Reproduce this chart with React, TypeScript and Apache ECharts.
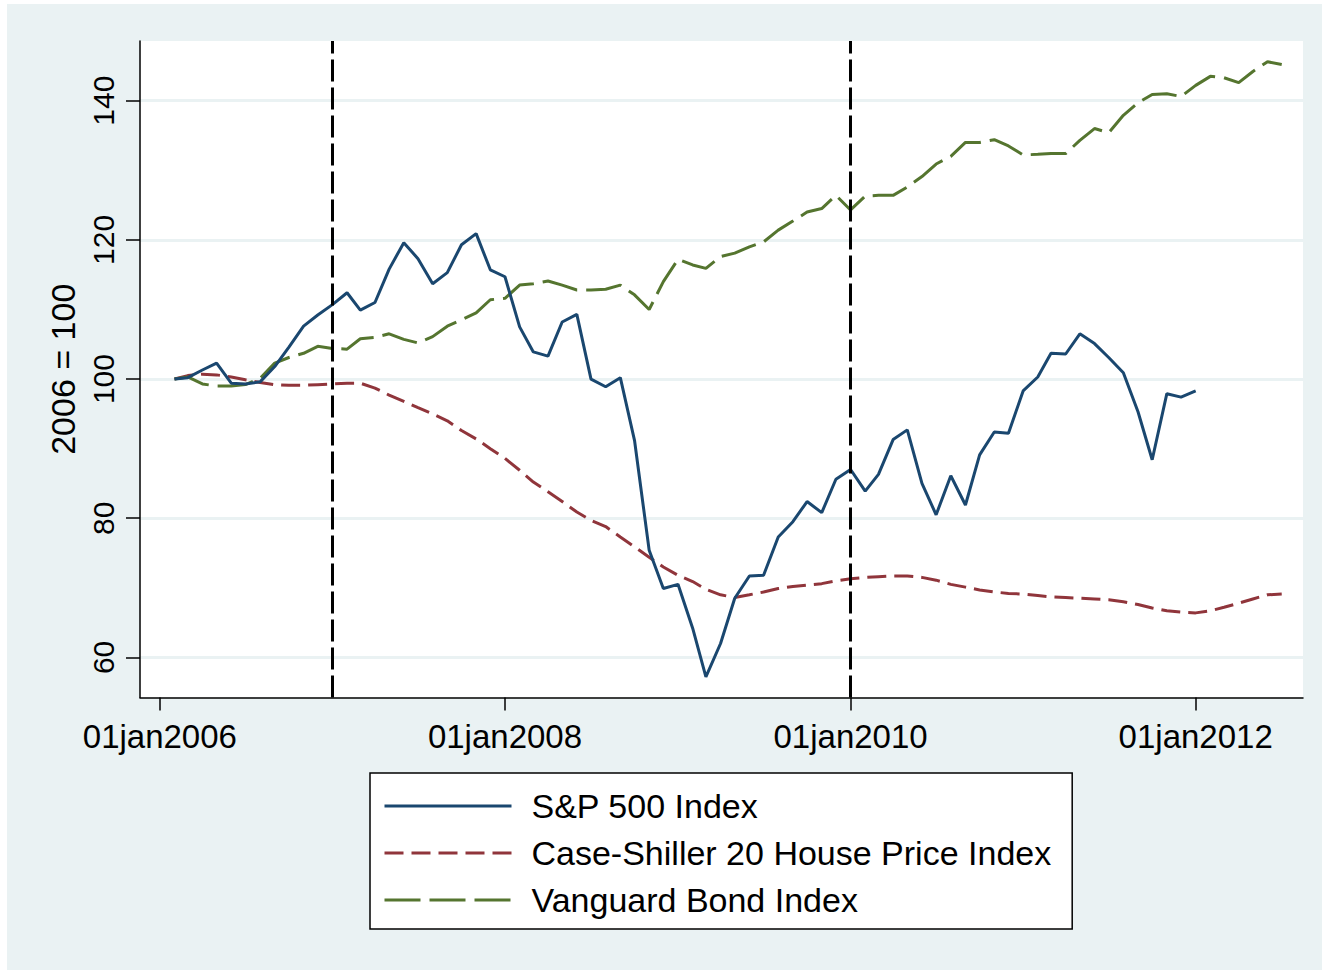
import React, { useEffect, useRef } from "react";
import * as echarts from "echarts";

const months = [
  "2006-02", "2006-03", "2006-04", "2006-05", "2006-06", "2006-07", "2006-08", "2006-09", "2006-10", "2006-11", "2006-12",
  "2007-01", "2007-02", "2007-03", "2007-04", "2007-05", "2007-06", "2007-07", "2007-08", "2007-09", "2007-10", "2007-11", "2007-12",
  "2008-01", "2008-02", "2008-03", "2008-04", "2008-05", "2008-06", "2008-07", "2008-08", "2008-09", "2008-10", "2008-11", "2008-12",
  "2009-01", "2009-02", "2009-03", "2009-04", "2009-05", "2009-06", "2009-07", "2009-08", "2009-09", "2009-10", "2009-11", "2009-12",
  "2010-01", "2010-02", "2010-03", "2010-04", "2010-05", "2010-06", "2010-07", "2010-08", "2010-09", "2010-10", "2010-11", "2010-12",
  "2011-01", "2011-02", "2011-03", "2011-04", "2011-05", "2011-06", "2011-07", "2011-08", "2011-09", "2011-10", "2011-11", "2011-12",
  "2012-01", "2012-02", "2012-03", "2012-04", "2012-05", "2012-06", "2012-07",
];

const sp500 = [
  100.0, 100.2, 101.3, 102.3, 99.4, 99.3, 99.6, 101.8, 104.6, 107.6, 109.2,
  110.7, 112.4, 109.9, 111.0, 115.8, 119.6, 117.3, 113.7, 115.3, 119.3, 120.9, 115.7,
  114.7, 107.5, 103.9, 103.3, 108.2, 109.3, 100.0, 98.9, 100.2, 91.2, 75.4, 69.9,
  70.5, 64.2, 57.2, 62.0, 68.5, 71.7, 71.8, 77.3, 79.5, 82.4, 80.8, 85.6,
  87.0, 83.9, 86.3, 91.3, 92.7, 85.0, 80.5, 86.1, 81.9, 89.1, 92.4, 92.2,
  98.3, 100.3, 103.7, 103.6, 106.5, 105.1, 103.1, 100.9, 95.3, 88.4, 97.9, 97.4,
  98.3,
];

const caseShiller = [
  100.0, 100.5, 100.7, 100.6, 100.3, 99.9, 99.5, 99.2, 99.1, 99.1, 99.2,
  99.3, 99.4, 99.4, 98.7, 97.7, 96.8, 95.9, 95.0, 94.0, 92.6, 91.4, 90.0,
  88.6, 86.9, 85.2, 83.8, 82.4, 80.9, 79.7, 78.8, 77.3, 75.9, 74.4, 73.0,
  71.8, 70.9, 69.8, 69.0, 68.6, 69.0, 69.4, 69.9, 70.2, 70.4, 70.6, 71.0,
  71.3, 71.5, 71.6, 71.7, 71.7, 71.5, 71.1, 70.5, 70.1, 69.7, 69.4, 69.2,
  69.1, 68.9, 68.7, 68.6, 68.5, 68.4, 68.3, 68.0, 67.6, 67.1, 66.7, 66.5,
  66.4, 66.7, 67.2, 67.8, 68.4, 69.0, 69.1,
];

const vanguard = [
  100.0, 100.3, 99.3, 99.0, 99.0, 99.2, 100.1, 102.3, 103.1, 103.7, 104.7,
  104.4, 104.3, 105.8, 106.0, 106.5, 105.7, 105.2, 106.1, 107.6, 108.5, 109.5, 111.4,
  111.6, 113.5, 113.7, 114.1, 113.5, 112.8, 112.8, 112.9, 113.5, 112.1, 110.0, 114.0,
  117.2, 116.4, 115.9, 117.6, 118.1, 119.0, 119.7, 121.4, 122.7, 124.0, 124.5, 126.4,
  124.3, 126.3, 126.4, 126.4, 127.6, 129.1, 130.9, 132.0, 134.0, 134.0, 134.4, 133.5,
  132.2, 132.3, 132.4, 132.4, 134.3, 136.0, 135.4, 137.9, 139.7, 140.9, 141.0, 140.6,
  142.2, 143.5, 143.3, 142.6, 144.2, 145.6, 145.2,
];

const yTicks = [60, 80, 100, 120, 140];
const xTickDates = ["2006-01-01", "2008-01-01", "2010-01-01", "2012-01-01"];
const eventDates = ["2007-01-01", "2010-01-01"];
const seriesNames = ["S&P 500 Index", "Case-Shiller 20 House Price Index", "Vanguard Bond Index"];
const yTitle = "2006 = 100";
const monthNames = ["jan", "feb", "mar", "apr", "may", "jun", "jul", "aug", "sep", "oct", "nov", "dec"];

const FONT = "'Liberation Sans', Arial, Helvetica, sans-serif";

function ts(s: string): number {
  const p = s.split("-").map(Number);
  return Date.UTC(p[0], p[1] - 1, p[2] || 1);
}

function fmtDate(v: number): string {
  const d = new Date(v);
  return String(d.getUTCDate()).padStart(2, "0") + monthNames[d.getUTCMonth()] + d.getUTCFullYear();
}

function toPairs(vals: number[]): [number, number][] {
  return vals.map((v, i) => [ts(months[i]), v]);
}

export default function App() {
  const ref = useRef<HTMLDivElement>(null);
  useEffect(() => {
    if (!ref.current) return;
    const chart = echarts.init(ref.current, null, { renderer: "svg" });
    const xTickVals = xTickDates.map(ts);
    chart.setOption({
      animation: false,
      backgroundColor: "#EAF2F3",
      textStyle: { fontFamily: FONT },
      grid: {
        left: 133,
        top: 37,
        width: 1163,
        height: 656.5,
        show: true,
        backgroundColor: "#ffffff",
        borderWidth: 0,
      },
      xAxis: {
        type: "value",
        min: ts("2005-11-20"),
        max: ts("2012-08-15"),
        axisLine: { show: true, onZero: false, lineStyle: { color: "#000", width: 1.5 } },
        axisTick: { show: true, length: 13, lineStyle: { color: "#000", width: 1.5 }, customValues: xTickVals },
        axisLabel: {
          customValues: xTickVals,
          formatter: (v: number) => fmtDate(v),
          fontSize: 33,
          color: "#000",
          margin: 22,
          fontFamily: FONT,
        },
        splitLine: { show: false },
      },
      yAxis: {
        type: "value",
        min: 54.24,
        max: 148.58,
        axisLine: { show: true, lineStyle: { color: "#000", width: 1.5 } },
        axisTick: { show: true, length: 14, lineStyle: { color: "#000", width: 1.5 }, customValues: yTicks },
        axisLabel: {
          customValues: yTicks,
          rotate: 90,
          fontSize: 30,
          color: "#000",
          margin: 22,
          fontFamily: FONT,
        },
        splitLine: { show: true, lineStyle: { color: "#EAF2F3", width: 3 } },
        name: yTitle,
        nameLocation: "middle",
        nameRotate: 90,
        nameGap: 60,
        nameTextStyle: { fontSize: 34, color: "#000", fontFamily: FONT },
      },
      legend: {
        orient: "vertical",
        left: 363,
        top: 769,
        padding: [13, 21, 9, 13],
        borderColor: "#000",
        borderWidth: 1.5,
        backgroundColor: "#ffffff",
        itemWidth: 127,
        itemHeight: 20,
        itemGap: 7,
        selectedMode: false,
        itemStyle: { color: "rgba(0,0,0,0)", borderWidth: 0, opacity: 0 },
        lineStyle: { width: 3 },
        textStyle: { fontSize: 34, color: "#000", fontFamily: FONT, padding: [0, 0, 0, 15], lineHeight: 40 },
        data: seriesNames,
      },
      series: [
        {
          type: "line",
          name: seriesNames[0],
          data: toPairs(sp500),
          symbol: "none",
          showSymbol: false,
          lineStyle: { color: "#1a476f", width: 3 },
          itemStyle: { color: "#1a476f" },
          z: 4,
          markLine: {
            silent: true,
            symbol: ["none", "none"],
            label: { show: false },
            lineStyle: { color: "#000", width: 3, type: [22, 6] },
            data: eventDates.map((d) => ({ xAxis: ts(d) })),
          },
        },
        {
          type: "line",
          name: seriesNames[1],
          data: toPairs(caseShiller),
          symbol: "none",
          showSymbol: false,
          lineStyle: { color: "#90353b", width: 3, type: [19, 8] },
          itemStyle: { color: "#90353b" },
          z: 3,
        },
        {
          type: "line",
          name: seriesNames[2],
          data: toPairs(vanguard),
          symbol: "none",
          showSymbol: false,
          lineStyle: { color: "#55752f", width: 3, type: [36, 9] },
          itemStyle: { color: "#55752f" },
          z: 3,
        },
      ],
    });
    return () => chart.dispose();
  }, []);
  return (
    <div
      ref={ref}
      style={{ position: "absolute", left: 7, top: 4, width: 1315, height: 966 }}
    />
  );
}
